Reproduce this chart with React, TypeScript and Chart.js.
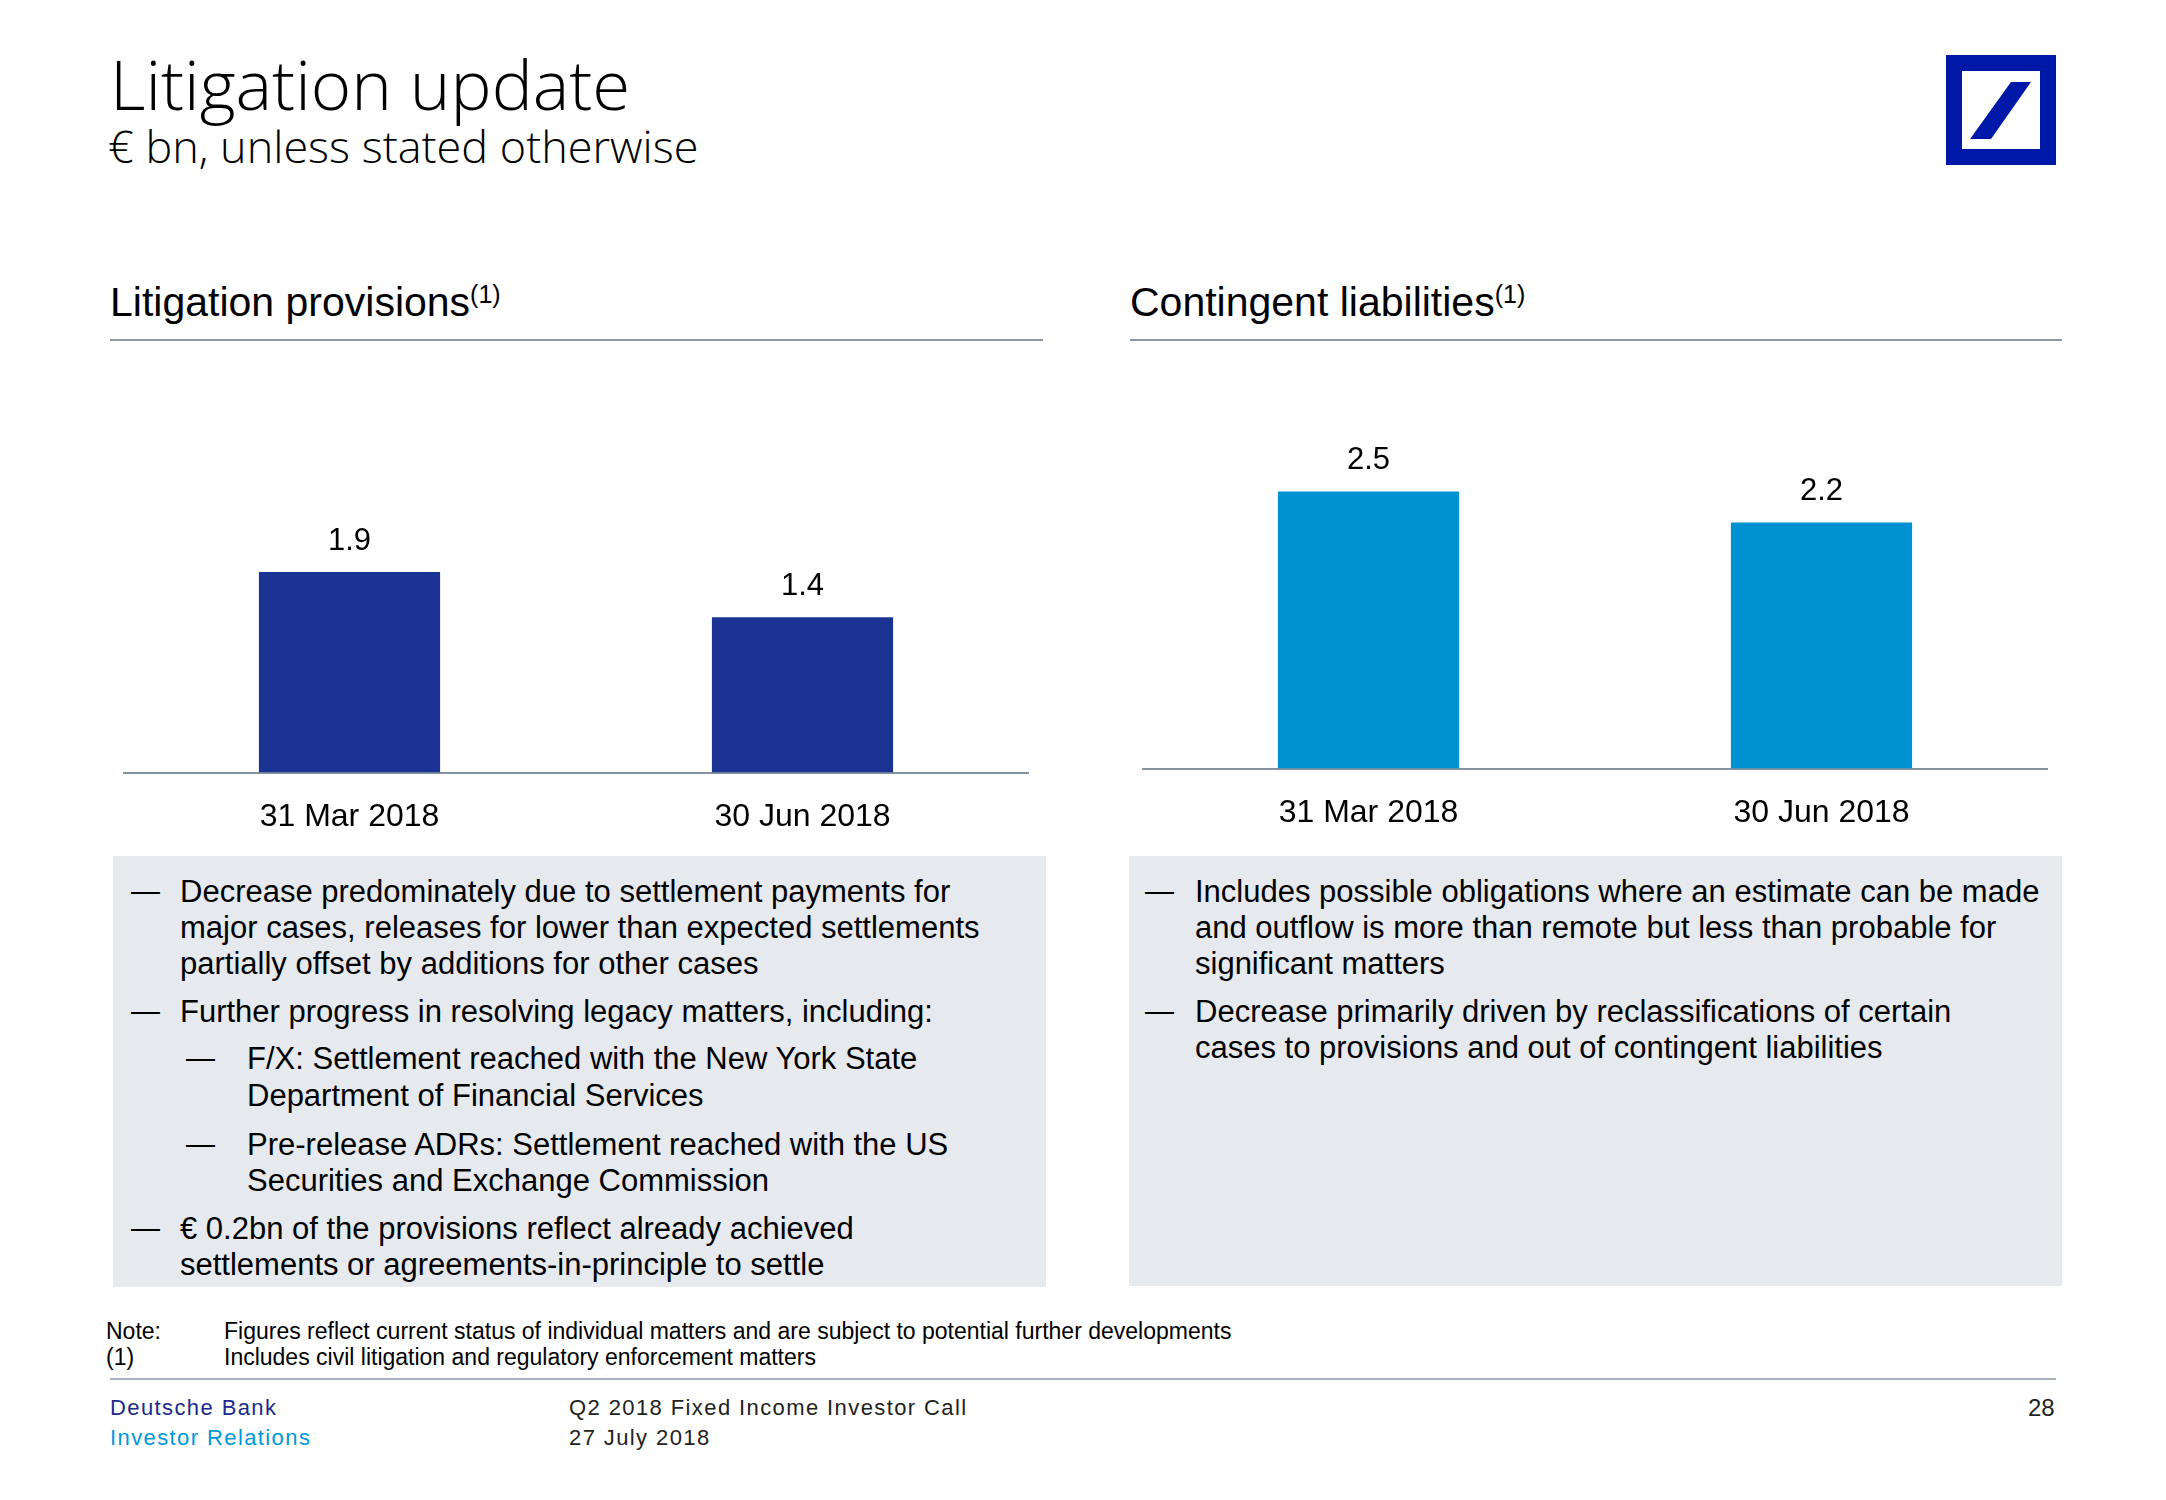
import React, { useEffect, useRef } from "react";
import { Chart, registerables } from "chart.js";

Chart.register(...registerables);

// ---------- data ----------
const categories = ["31 Mar 2018", "30 Jun 2018"];
const provisionsValues = [1.86, 1.44];
const contingentValues = [2.5, 2.22];

const titleText = "Litigation update";
const subtitleText = "€ bn, unless stated otherwise";
const leftHeader = "Litigation provisions";
const rightHeader = "Contingent liabilities";

// [level, isFirstLineOfBullet, text]
const leftBullets: [number, boolean, string][] = [
  [0, true, "Decrease predominately due to settlement payments for"],
  [0, false, "major cases, releases for lower than expected settlements"],
  [0, false, "partially offset by additions for other cases"],
  [0, true, "Further progress in resolving legacy matters, including:"],
  [1, true, "F/X: Settlement reached with the New York State"],
  [1, false, "Department of Financial Services"],
  [1, true, "Pre-release ADRs: Settlement reached with the US"],
  [1, false, "Securities and Exchange Commission"],
  [0, true, "€ 0.2bn of the provisions reflect already achieved"],
  [0, false, "settlements or agreements-in-principle to settle"],
];
const leftLineY = [891, 927, 963, 1011, 1058, 1095, 1144, 1180, 1228, 1264];

const rightBullets: [number, boolean, string][] = [
  [0, true, "Includes possible obligations where an estimate can be made"],
  [0, false, "and outflow is more than remote but less than probable for"],
  [0, false, "significant matters"],
  [0, true, "Decrease primarily driven by reclassifications of certain"],
  [0, false, "cases to provisions and out of contingent liabilities"],
];
const rightLineY = [891, 927, 963, 1011, 1047];

const notes: [string, string][] = [
  ["Note:", "Figures reflect current status of individual matters and are subject to potential further developments"],
  ["(1)", "Includes civil litigation and regulatory enforcement matters"],
];

const FONT = "'Liberation Sans', Arial, sans-serif";

// ---------- chart ----------
const valueLabelPlugin = {
  id: "valueLabels",
  afterDatasetsDraw(chart: any) {
    const ctx = chart.ctx;
    const meta = chart.getDatasetMeta(0);
    const data = chart.data.datasets[0].data as number[];
    ctx.save();
    ctx.fillStyle = "#000";
    ctx.font = `31px ${FONT}`;
    ctx.textAlign = "center";
    ctx.textBaseline = "middle";
    meta.data.forEach((bar: any, i: number) => {
      ctx.fillText(data[i].toFixed(1), bar.x, bar.y - 31);
    });
    ctx.restore();
  },
};

function BarPanel(props: {
  left: number;
  top: number;
  width: number;
  height: number;
  values: number[];
  color: string;
}) {
  const ref = useRef<HTMLCanvasElement>(null);
  useEffect(() => {
    if (!ref.current) return;
    const chart = new Chart(ref.current, {
      type: "bar",
      data: {
        labels: categories,
        datasets: [
          {
            data: props.values,
            backgroundColor: props.color,
            borderWidth: 0,
            categoryPercentage: 1,
            barPercentage: 0.4,
          },
        ],
      },
      options: {
        animation: false,
        responsive: false,
        maintainAspectRatio: false,
        devicePixelRatio: 1,
        layout: { padding: 0 },
        plugins: { legend: { display: false }, tooltip: { enabled: false } },
        scales: {
          x: {
            grid: { display: false, drawTicks: false, tickLength: 0 },
            border: { display: true, color: "#8593a1", width: 2 },
            ticks: { color: "#000", font: { family: FONT, size: 32 }, padding: 25 },
          },
          y: { display: false, min: 0, max: 3 },
        },
      },
      plugins: [valueLabelPlugin],
    } as any);
    return () => chart.destroy();
  }, []);
  return (
    <canvas
      ref={ref}
      width={props.width}
      height={props.height}
      style={{ position: "absolute", left: props.left, top: props.top, width: props.width, height: props.height }}
    />
  );
}

function Txt(props: { x: number; cy: number; size: number; lh?: number; color?: string; weight?: number; family?: string; ls?: number; children: any }) {
  const lh = props.lh ?? Math.round(props.size * 1.25);
  return (
    <div
      style={{
        position: "absolute",
        left: props.x,
        top: props.cy - lh / 2,
        height: lh,
        lineHeight: `${lh}px`,
        fontSize: props.size,
        fontFamily: props.family ?? FONT,
        fontWeight: props.weight ?? 400,
        color: props.color ?? "#000",
        letterSpacing: props.ls ?? 0,
        whiteSpace: "nowrap",
      }}
    >
      {props.children}
    </div>
  );
}

function Bullets(props: { items: [number, boolean, string][]; ys: number[]; dashX: number; textX: number; subDashX: number; subTextX: number }) {
  return (
    <>
      {props.items.map(([lvl, first, t], i) => (
        <React.Fragment key={i}>
          {first && (
            <Txt x={lvl === 0 ? props.dashX : props.subDashX} cy={props.ys[i]} size={29}>
              —
            </Txt>
          )}
          <Txt x={lvl === 0 ? props.textX : props.subTextX} cy={props.ys[i]} size={31}>
            {t}
          </Txt>
        </React.Fragment>
      ))}
    </>
  );
}

export default function App() {
  return (
    <div style={{ position: "absolute", left: 0, top: 0, width: 2166, height: 1500, background: "#fff", overflow: "hidden" }}>
      <Txt x={110} cy={83} size={69} weight={300} family="'Open Sans', sans-serif">
        {titleText}
      </Txt>
      <Txt x={108} cy={146} size={45} weight={300} family="'Open Sans', sans-serif">
        {subtitleText}
      </Txt>

      {/* logo */}
      <svg style={{ position: "absolute", left: 1946, top: 55 }} width={110} height={110} viewBox="0 0 110 110">
        <rect x={0} y={0} width={110} height={110} fill="#0018a8" />
        <rect x={16} y={16} width={78} height={78} fill="#fff" />
        <polygon points="24,84 45,84 85,27 65,27" fill="#0018a8" />
      </svg>

      {/* section headers */}
      <Txt x={110} cy={302} size={41}>
        {leftHeader}
        <sup style={{ fontSize: 25, verticalAlign: "top", position: "relative", top: -8 }}>(1)</sup>
      </Txt>
      <div style={{ position: "absolute", left: 110, top: 339, width: 933, height: 2, background: "#8c98a4" }} />
      <Txt x={1130} cy={302} size={41}>
        {rightHeader}
        <sup style={{ fontSize: 25, verticalAlign: "top", position: "relative", top: -8 }}>(1)</sup>
      </Txt>
      <div style={{ position: "absolute", left: 1130, top: 339, width: 932, height: 2, background: "#8c98a4" }} />

      <BarPanel left={123} top={449} width={906} height={412} values={provisionsValues} color="#1b3493" />
      <BarPanel left={1142} top={436} width={906} height={421} values={contingentValues} color="#0091d1" />

      {/* text boxes */}
      <div style={{ position: "absolute", left: 113, top: 856, width: 933, height: 431, background: "#e6e9ed" }} />
      <div style={{ position: "absolute", left: 1129, top: 856, width: 933, height: 430, background: "#e6e9ed" }} />
      <Bullets items={leftBullets} ys={leftLineY} dashX={131} textX={180} subDashX={186} subTextX={247} />
      <Bullets items={rightBullets} ys={rightLineY} dashX={1145} textX={1195} subDashX={1195} subTextX={1250} />

      {/* notes */}
      {notes.map(([a, b], i) => (
        <React.Fragment key={i}>
          <Txt x={106} cy={1331 + i * 26} size={23}>
            {a}
          </Txt>
          <Txt x={224} cy={1331 + i * 26} size={23}>
            {b}
          </Txt>
        </React.Fragment>
      ))}
      <div style={{ position: "absolute", left: 110, top: 1378, width: 1946, height: 2, background: "#a9b1ba" }} />

      {/* footer */}
      <Txt x={110} cy={1408} size={22} color="#1a2a8c" ls={1.4}>Deutsche Bank</Txt>
      <Txt x={110} cy={1438} size={22} color="#0098db" ls={1.4}>Investor Relations</Txt>
      <Txt x={569} cy={1408} size={22} color="#222" ls={1.4}>Q2 2018 Fixed Income Investor Call</Txt>
      <Txt x={569} cy={1438} size={22} color="#222" ls={1.4}>27 July 2018</Txt>
      <Txt x={2028} cy={1408} size={24} color="#222">28</Txt>
    </div>
  );
}
